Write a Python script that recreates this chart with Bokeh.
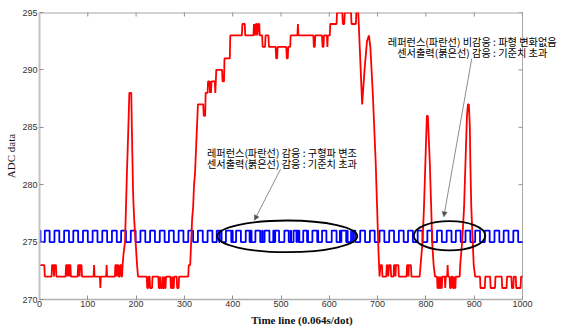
import math
from bokeh.plotting import figure
from bokeh.models import Range1d, FixedTicker, Label, Arrow, NormalHead
from bokeh.embed import file_html
from bokeh.resources import INLINE

# ---------------- data ----------------
x_ticks = [0, 100, 200, 300, 400, 500, 600, 700, 800, 900, 1000]
y_ticks = [270, 275, 280, 285, 290, 295]

# reference (blue) square wave: rise positions (dots)
blue_rises = [11, 31, 51, 70, 90, 110, 130, 150, 169, 189, 209, 229, 249, 268, 288,
              308, 328, 348, 367, 387, 407, 427, 447, 466, 486, 506, 526, 546, 565,
              585, 605, 625, 645, 664, 684, 704, 724, 744, 763, 783, 803, 823, 843,
              862, 882, 902, 922, 942, 961, 981]
blue_high_len = 10
blue_low, blue_high = 275, 276
# narrow glitches inside the modulated zone
blue_glitches = [372, 386, 399, 435, 438, 461, 484, 487, 506, 520, 532, 537, 554,
                 576, 594, 622, 637, 649, 654]

# sensor (red) output, vertices (dot, ADC value)
red_pts = [
    (0, 273), (10, 273), (11, 272), (25, 272), (26, 273), (29, 273), (30, 272), (31, 273), (34, 273), (35, 272),
    (54, 272), (55, 273), (57, 273), (58, 272), (59, 273), (61, 273), (62, 272), (63, 273), (64, 273), (65, 272),
    (79, 272), (80, 273), (82, 273), (83, 272), (84, 273), (87, 273), (88, 272),
    (112, 272), (113, 273), (114, 272), (125, 272), (126, 271), (127, 272), (138, 272), (139, 273), (140, 272),
    (156, 272), (157, 273), (159, 273), (160, 272), (161, 273), (163, 273), (164, 272), (166, 272), (167, 273),
    (169, 273), (170, 272), (171, 272), (172, 273), (174, 274), (177, 275), (179, 278), (181, 281), (184, 285),
    (186, 288), (190, 288), (192, 283), (194, 279), (196, 277), (199, 275), (202, 273), (204, 272),
    (222, 272), (223, 271), (225, 271), (226, 272), (228, 272), (229, 271), (233, 271), (234, 272),
    (246, 272), (247, 271), (249, 271), (250, 272), (251, 271), (254, 271), (255, 272), (256, 271), (258, 271),
    (259, 272), (260, 271), (261, 271), (262, 272),
    (271, 272), (272, 271), (274, 271), (275, 272), (276, 271), (278, 271), (279, 272), (284, 272), (285, 271),
    (288, 271), (289, 272),
    (308, 272), (309, 273), (312, 273), (314, 275), (316, 277), (318, 278), (320, 280), (322, 281), (324, 283),
    (326, 285), (328, 287), (339, 287), (340, 286), (343, 286), (344, 288), (348, 288), (349, 289), (352, 289),
    (353, 288), (354, 289), (355, 288), (356, 289), (363, 289), (364, 288), (365, 289), (366, 290), (378, 290),
    (379, 289), (382, 289), (383, 291), (394, 291), (395, 293), (419, 293), (420, 294), (425, 294), (426, 293),
    (443, 293), (444, 294), (445, 293), (446, 294), (447, 293), (448, 294), (450, 294), (451, 293), (453, 294),
    (455, 294), (456, 293), (461, 293), (462, 292), (467, 292), (468, 293), (474, 293), (475, 292), (489, 292),
    (490, 291), (492, 291), (493, 292), (511, 292), (512, 291), (514, 291), (515, 292), (519, 292), (520, 293),
    (534, 293), (535, 294), (536, 293), (567, 293), (568, 292), (570, 292), (571, 293), (585, 293), (586, 292),
    (588, 292), (589, 293), (595, 293), (596, 292), (597, 293), (601, 293), (602, 294), (615, 294), (616, 295),
    (627, 295), (628, 294), (631, 294), (632, 295), (645, 295), (646, 294), (655, 294), (656, 295), (660, 295),
    (663, 292), (668, 287), (673, 290), (678, 292.5), (682, 293), (685, 292), (690, 288), (692, 286), (696, 282),
    (699, 278), (702, 274), (704, 272),
    (706, 273), (709, 273), (710, 272), (718, 272), (719, 273), (721, 273), (722, 272), (724, 273), (727, 273),
    (728, 272), (733, 272), (734, 273), (736, 273), (737, 272), (738, 273), (743, 273), (744, 272),
    (760, 272), (761, 273), (763, 273), (764, 272), (765, 273), (769, 273), (770, 272), (787, 272),
    (789, 273), (791, 274), (793, 275), (796, 278), (799, 282), (802, 286), (804, 286), (806, 284), (808, 282),
    (811, 278), (813, 275), (816, 273), (819, 272),
    (823, 272), (824, 271), (826, 271), (827, 272), (828, 271), (830, 271), (831, 272), (832, 271), (833, 271),
    (834, 272), (839, 272), (840, 271), (841, 272), (844, 272), (845, 273), (846, 272), (849, 272), (850, 271),
    (852, 271), (853, 272), (855, 272), (856, 271), (858, 271), (859, 272), (860, 271), (861, 271), (862, 272),
    (870, 272), (871, 273), (873, 274), (875, 275), (879, 278), (882, 282), (885, 286), (887, 287), (889, 287),
    (891, 285), (892, 282), (894, 278), (897, 275), (899, 273), (902, 272),
    (912, 272), (913, 271), (922, 271), (923, 272), (933, 272), (934, 271), (943, 271), (944, 272), (957, 272),
    (958, 271), (967, 271), (968, 272), (977, 272), (978, 271), (981, 271), (982, 272), (986, 272), (987, 271),
    (996, 271), (997, 272), (1000, 272),
]

# annotations
note1 = ["레퍼런스(파란선) 감응 : 구형파 변조", "센서출력(붉은선) 감응 : 기준치 초과"]
note2 = ["레퍼런스(파란선) 비감응 : 파형 변화없음", "센서출력(붉은선) 감응 : 기준치 초과"]
note1_pos = (502, [282.82, 281.84])
note2_pos = (896, [292.46, 291.48])
arrow1 = (499, 281.35, 445, 276.9)
arrow2 = (895, 291.0, 837, 277.2)
ellipse_x = [513, 849]
ellipse_y = [275.5, 275.55]
ellipse_w = [290, 148]
ellipse_h = [2.76, 2.55]

# ---------------- build series ----------------
n = 1001
blue = [blue_low] * n
blue[0] = blue_high
blue[1] = blue_high
for r in blue_rises:
    for i in range(r, min(r + blue_high_len, n)):
        blue[i] = blue_high
for g in blue_glitches:
    blue[g] = blue_low if blue[g] == blue_high else blue_high
blue_x = list(range(n))

red_x = [pt[0] for pt in red_pts]
red_y = [pt[1] for pt in red_pts]

# ---------------- layout ----------------
W, H = 564, 328
LEFT, TOP, BOTTOM = 39, 12, 28
BOX_W = 483                      # visible box width in px (0..1000)
FRAME_W = W - LEFT               # frame runs to the right edge so notes are not clipped
x_lo, x_hi = x_ticks[0], x_ticks[-1]
y_lo, y_hi = y_ticks[0], y_ticks[-1]
x_end = x_hi * FRAME_W / BOX_W
tick_len_x = 4 * x_hi / BOX_W    # 4px expressed in x data units

p = figure(width=W, height=H, output_backend="svg", toolbar_location=None,
           x_range=Range1d(x_lo, x_end), y_range=Range1d(y_lo, y_hi),
           min_border_left=LEFT, min_border_right=0, min_border_top=TOP, min_border_bottom=BOTTOM,
           x_axis_label="Time line (0.064s/dot)", y_axis_label="ADC data")
p.background_fill_color = "white"
p.border_fill_color = "white"
p.grid.visible = False
p.outline_line_color = None

for ax in (p.xaxis[0], p.yaxis[0]):
    ax.major_tick_in = 4
    ax.major_tick_out = 0
    ax.minor_tick_line_color = None
    ax.major_tick_line_color = "#909090"
    ax.major_label_text_font = "Liberation Sans"
    ax.major_label_text_font_size = "9px"
    ax.major_label_text_color = "#333333"
    ax.axis_label_text_font = "Liberation Serif"
    ax.axis_label_text_color = "#111111"
    ax.axis_label_text_font_size = "11px"

p.xaxis.ticker = FixedTicker(ticks=x_ticks)
p.xaxis.bounds = (x_lo, x_hi)
p.yaxis.ticker = FixedTicker(ticks=y_ticks)
p.yaxis.axis_line_color = "#c4c4c4"
p.yaxis.axis_line_width = 2
p.xaxis.axis_line_color = "#b0b0b0"
p.xaxis.axis_line_width = 1.5
p.xaxis.major_label_standoff = 1
p.xaxis.axis_label_standoff = 4
p.xaxis.axis_label_text_font_style = "bold"
p.yaxis.major_label_standoff = 2
p.yaxis.axis_label_standoff = 2
p.yaxis.axis_label_text_font_style = "normal"

# top and right edges of the box, with inward ticks
p.segment(x0=[x_lo], y0=[y_hi], x1=[x_hi], y1=[y_hi], line_color="#a8a8a8", line_width=2)
p.segment(x0=[x_hi], y0=[y_lo], x1=[x_hi], y1=[y_hi], line_color="#a8a8a8", line_width=1)
p.scatter(x=x_ticks, y=[y_hi] * len(x_ticks), marker="dash", size=8, angle=math.pi / 2,
          line_color="#909090", line_width=1)
p.segment(x0=[x_hi] * len(y_ticks), y0=y_ticks, x1=[x_hi - tick_len_x] * len(y_ticks), y1=y_ticks,
          line_color="#909090", line_width=1)

p.step(blue_x, blue, mode="after", line_color="#0000ff", line_width=1.8)
p.line(red_x, red_y, line_color="#ff0000", line_width=1.8)

p.ellipse(x=ellipse_x, y=ellipse_y, width=ellipse_w, height=ellipse_h,
          fill_color=None, line_color="black", line_width=1.8)

for (nx, ys), lines in ((note1_pos, note1), (note2_pos, note2)):
    for yy, t in zip(ys, lines):
        p.add_layout(Label(x=nx, y=yy, text=t, text_align="center", text_baseline="middle",
                           text_font="Noto Sans CJK KR", text_font_size="10.2px",
                           text_color="black"))

for (x0, y0, x1, y1) in (arrow1, arrow2):
    p.add_layout(Arrow(x_start=x0, y_start=y0, x_end=x1, y_end=y1,
                       line_color="#707070", line_width=0.8,
                       end=NormalHead(size=5, fill_color="#505050", line_color="#505050", line_width=0.5)))

open("out.html", "w").write(file_html(p, INLINE))
